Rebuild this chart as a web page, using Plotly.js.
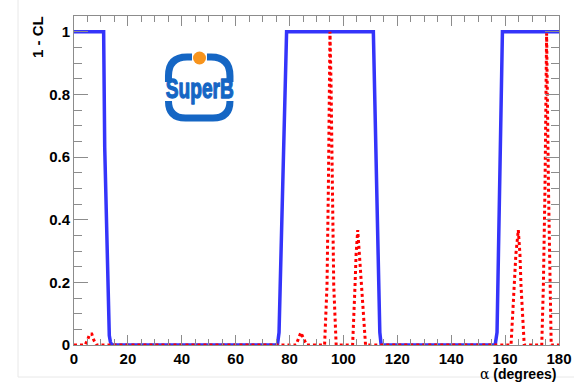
<!DOCTYPE html>
<html>
<head>
<meta charset="utf-8">
<script src="https://cdn.plot.ly/plotly-3.0.1.min.js"></script>
<style>html,body{margin:0;padding:0;background:#fff;}#chart{width:574px;height:382px;}</style>
</head>
<body>
<div id="chart"></div>
<script>
// ---- data (alpha in degrees, 1 - CL) ----
const blueAlpha = [0, 11.0, 11.4, 12.0, 12.5, 13.1, 13.5, 14.0, 75.5, 76.1, 76.5, 77.0, 77.5, 78.0, 78.5, 78.9, 111.1, 111.5, 112.0, 112.5, 113.0, 113.5, 114.0, 156.3, 157.0, 157.5, 158.0, 158.5, 159.0, 180];
const blueCL    = [1, 1, 0.63, 0.40, 0.19, 0.03, 0.01, 0, 0, 0.04, 0.18, 0.35, 0.52, 0.69, 0.86, 1, 1, 0.85, 0.64, 0.43, 0.22, 0.04, 0, 0, 0.04, 0.25, 0.45, 0.68, 1, 1];

const redAlpha = [0, 4.1, 5.0, 5.8, 6.6, 7.4, 8.4, 82.4, 83.3, 84.2, 85.2, 86.4, 93.0, 93.9, 94.4, 94.7, 95.0, 95.4, 95.9, 96.4, 97.3, 103.4, 104.3, 104.7, 105.3, 105.9, 106.5, 107.4, 108.2, 162.2, 163.4, 164.0, 164.9, 165.5, 165.9, 167.1, 173.6, 174.2, 174.8, 175.4, 176.1, 176.6, 177.1, 180];
const redCL    = [0, 0, 0.015, 0.035, 0.035, 0.015, 0, 0, 0.02, 0.04, 0.02, 0, 0, 0.19, 0.5, 0.83, 1.0, 0.83, 0.5, 0.19, 0, 0, 0.19, 0.29, 0.367, 0.29, 0.19, 0.08, 0, 0, 0.19, 0.29, 0.367, 0.29, 0.19, 0, 0, 0.19, 0.5, 0.995, 0.5, 0.19, 0, 0];

const xTitle = '<span style="font-family:\'DejaVu Serif\',serif;font-weight:normal">α</span> (degrees)';
const yTitle = '1 - CL';
const logoText = '<b>SuperB</b>';

// ---- layout helpers (decoration positions in pixels -> paper) ----
const M = {l: 74, r: 15, t: 16, b: 37};
const W = 574, H = 382;
const PW = W - M.l - M.r, PH = H - M.t - M.b;
const ux = px => (px - M.l) / PW;
const vy = py => (H - M.b - py) / PH;
const pt = p => ux(p[0]).toFixed(4) + ',' + vy(p[1]).toFixed(4);
// segs: [cmd, point, point?]
const path = segs => segs.map(s => s[0] + s.slice(1).map(pt).join(' ')).join(' ');

const logoBlue = '#1566c4';
const ringStyle = {type: 'path', xref: 'paper', yref: 'paper', line: {color: logoBlue, width: 7}, layer: 'above'};

const tickFont = {family: 'Liberation Sans, Arial, sans-serif', size: 15, color: '#000', weight: 'bold'};
const titleFont = {family: 'Liberation Sans, Arial, sans-serif', size: 14, color: '#000', weight: 'bold'};
const axisCommon = {
  showline: true, linecolor: '#8c8c8c', linewidth: 1, mirror: 'ticks',
  ticks: 'inside', tickcolor: '#8c8c8c', tickwidth: 1,
  showgrid: false, zeroline: false, tickfont: tickFont, fixedrange: true
};

const data = [
  {x: blueAlpha, y: blueCL, type: 'scatter', mode: 'lines',
   line: {color: '#3434fa', width: 3.5}, hoverinfo: 'skip'},
  {x: redAlpha, y: redCL, type: 'scatter', mode: 'lines',
   line: {color: '#ff0000', width: 3, dash: '3px,3px'}, hoverinfo: 'skip'}
];

const layout = {
  width: W, height: H, margin: M,
  paper_bgcolor: '#fff', plot_bgcolor: '#fff', showlegend: false,
  xaxis: Object.assign({}, axisCommon, {range: [0, 180], dtick: 20, tick0: 0, ticklen: 10,
    minor: {dtick: 5, ticklen: 6, ticks: 'inside', tickcolor: '#8c8c8c'}}),
  yaxis: Object.assign({}, axisCommon, {range: [0, 1.05], dtick: 0.2, tick0: 0, ticklen: 14,
    minor: {dtick: 0.05, ticklen: 8, ticks: 'inside', tickcolor: '#8c8c8c'}}),
  shapes: [
    {type: 'rect', xref: 'paper', yref: 'paper', x0: ux(18), x1: ux(576), y0: vy(377), y1: vy(-2),
     line: {color: '#e8e8e8', width: 1}, layer: 'below'},
    Object.assign({}, ringStyle, {path: path([['M', [168.5, 82]], ['L', [168.5, 76]], ['Q', [168.5, 57], [187, 57]], ['L', [192, 57]]])}),
    Object.assign({}, ringStyle, {path: path([['M', [230, 82]], ['L', [230, 76]], ['Q', [230, 57], [211, 57]], ['L', [207, 57]]])}),
    Object.assign({}, ringStyle, {path: path([['M', [168.5, 101]], ['Q', [168.5, 118], [185.5, 118]], ['L', [213, 118]], ['Q', [230, 118], [230, 101]]])}),
    {type: 'circle', xref: 'paper', yref: 'paper', x0: ux(193), x1: ux(206), y0: vy(64.5), y1: vy(51.5),
     fillcolor: '#f7941d', line: {width: 0}, layer: 'above'}
  ],
  annotations: [
    {text: logoText, xref: 'paper', yref: 'paper', x: ux(199.5), y: vy(88), xanchor: 'center', yanchor: 'middle',
     showarrow: false, font: {family: 'Liberation Sans, Arial, sans-serif', size: 28, color: logoBlue, weight: 'bold'}},
    {text: yTitle, xref: 'paper', yref: 'paper', x: ux(38), y: vy(37), xanchor: 'center', yanchor: 'middle',
     textangle: -90, showarrow: false, font: tickFont},
    {text: xTitle, xref: 'paper', yref: 'paper', x: ux(558), y: vy(374), xanchor: 'right', yanchor: 'middle',
     showarrow: false, font: titleFont}
  ]
};

Plotly.newPlot('chart', data, layout, {staticPlot: true, displayModeBar: false}).then(gd => {
  // squeeze the logo word into its condensed width and thicken it (text stays real text)
  const t = gd.querySelector('.annotation[data-index="0"] text.annotation-text');
  if (t) {
    t.setAttribute('textLength', '68');
    t.setAttribute('lengthAdjust', 'spacingAndGlyphs');
    t.style.stroke = logoBlue;
    t.style.strokeWidth = '1.3px';
    t.style.strokeLinejoin = 'round';
  }
});
</script>
</body>
</html>
